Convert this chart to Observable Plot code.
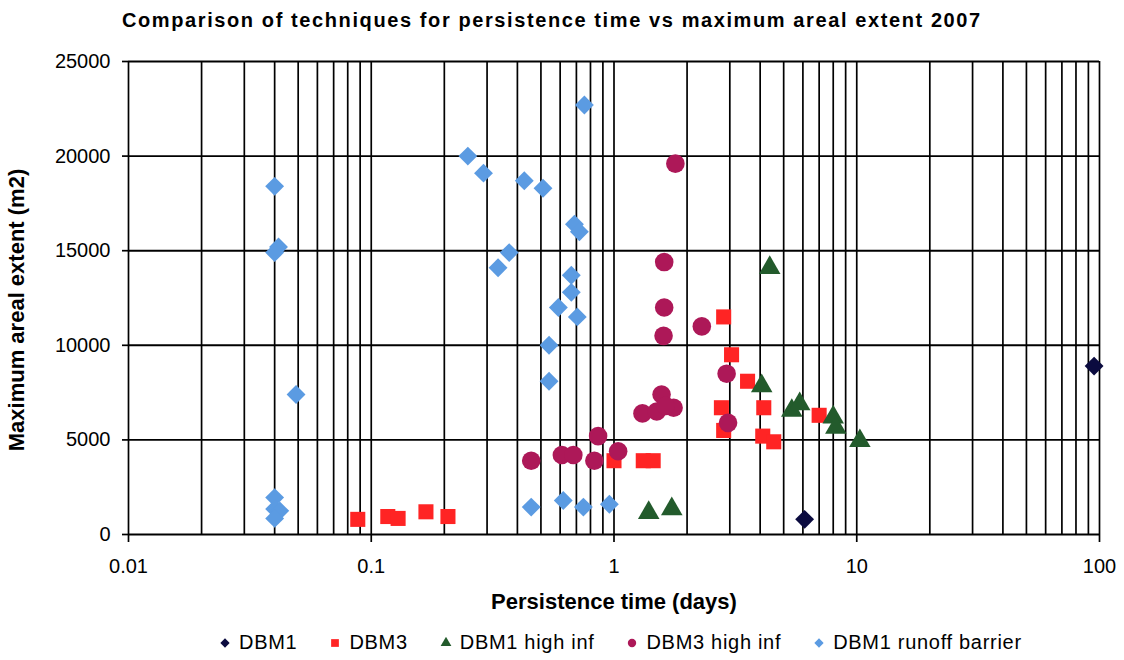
<!DOCTYPE html>
<html>
<head>
<meta charset="utf-8">
<script src="https://cdn.jsdelivr.net/npm/d3@7"></script>
<script src="https://cdn.jsdelivr.net/npm/@observablehq/plot@0.6"></script>
<style>
  html, body { margin: 0; padding: 0; background: #fff; }
  body { font-family: "Liberation Sans", Arial, sans-serif; color: #000; }
  #wrap { width: 1124px; height: 660px; position: relative; overflow: hidden; }
  #title { height: 40px; line-height: 40px; padding-left: 122px; font-weight: bold; font-size: 20px; letter-spacing: 1.6px; white-space: nowrap; }
  #chart svg { display: block; }
  #legend { height: 35px; display: flex; align-items: center; padding-left: 219px; font-size: 20px; letter-spacing: 0.7px; white-space: nowrap; }
  #legend .item { display: flex; align-items: center; margin-right: 32px; }
  #legend svg { width: 12px; height: 12px; margin-right: 8px; display: block; }
</style>
</head>
<body>
<div id="wrap">
  <div id="title">Comparison of techniques for persistence time vs maximum areal extent 2007</div>
  <div id="chart"></div>
  <div id="legend"></div>
</div>
<script>
// ---------- data (persistence time in days, maximum areal extent in m2) ----------
const seriesNames = ["DBM1", "DBM3", "DBM1 high inf", "DBM3 high inf", "DBM1 runoff barrier"];
const seriesColors = ["#0b0b3f", "#ff2424", "#235b2c", "#ad1858", "#5b9be2"];
const seriesSymbols = ["diamond2", "square", "triangle", "circle", "diamond2"];

const dbm1 = [[6.1, 800], [95, 8900]];
const dbm3 = [
  [0.088, 800], [0.117, 950], [0.129, 850], [0.168, 1200], [0.207, 950],
  [1.0, 3900], [1.32, 3900], [1.45, 3900],
  [2.83, 11500], [3.05, 9500], [3.55, 8100], [2.77, 6700], [2.83, 5500],
  [4.14, 6700], [4.1, 5200], [4.55, 4900], [7.0, 6300]
];
const dbm1HighInf = [
  [1.39, 1150], [1.73, 1350], [4.38, 14100], [4.06, 7850], [5.4, 6550],
  [5.82, 6900], [8.0, 6200], [8.2, 5650], [10.3, 4950]
];
const dbm3HighInf = [
  [1.79, 19600], [1.61, 14400], [1.61, 12000], [2.3, 11000], [1.6, 10500],
  [2.91, 8500], [2.95, 5900], [1.31, 6400], [1.5, 6500], [1.57, 7400],
  [1.76, 6700], [1.63, 6800], [0.456, 3900], [0.61, 4200], [0.68, 4200],
  [0.83, 3900], [0.86, 5200], [1.04, 4400]
];
const dbm1RunoffBarrier = [
  [0.04, 18400], [0.0415, 15200], [0.04, 14900], [0.049, 7400],
  [0.04, 1950], [0.04, 1350], [0.042, 1250], [0.04, 850],
  [0.25, 20000], [0.29, 19100], [0.427, 18700], [0.51, 18300], [0.755, 22700],
  [0.687, 16400], [0.72, 16000], [0.37, 14900], [0.333, 14100], [0.667, 13700],
  [0.667, 12800], [0.59, 12000], [0.706, 11500], [0.54, 10000], [0.54, 8100],
  [0.456, 1450], [0.618, 1800], [0.748, 1450], [0.957, 1600]
];

const xTickLabels = [0.01, 0.1, 1, 10, 100];
const yTickLabels = [0, 5000, 10000, 15000, 20000, 25000];
const xLabel = "Persistence time (days)";
const yLabel = "Maximum areal extent (m2)";

// ---------- build ----------
const allSeries = [dbm1, dbm3, dbm1HighInf, dbm3HighInf, dbm1RunoffBarrier];

// minor + major log grid lines
const xGrid = [];
for (let k = 0; k < xTickLabels.length - 1; k++) {
  for (let m = 1; m <= 9; m++) xGrid.push(+(xTickLabels[k] * m).toPrecision(3));
}
xGrid.push(xTickLabels[xTickLabels.length - 1]);

const sizes = {"diamond2": 8.5, "square": 8.5, "triangle": 8, "circle": 9.3};

const plot = Plot.plot({
  width: 1124,
  height: 585,
  marginTop: 21,
  marginBottom: 91,
  marginLeft: 128,
  marginRight: 25,
  style: {fontFamily: "'Liberation Sans', Arial, sans-serif", fontSize: "20px", color: "#000", background: "#fff"},
  x: {type: "log", domain: [0.01, 100]},
  y: {domain: [0, 25000]},
  marks: [
    Plot.gridX(xGrid, {stroke: "#000", strokeOpacity: 1, strokeWidth: 1.7}),
    Plot.gridY(yTickLabels, {stroke: "#000", strokeOpacity: 1, strokeWidth: 1.9}),
    Plot.axisX(xTickLabels, {tickSize: 8, tickPadding: 16, strokeWidth: 1.7, tickFormat: d => String(d), label: null, fontSize: 20}),
    Plot.axisY(yTickLabels, {tickSize: 6, tickPadding: 12, strokeWidth: 1.7, tickFormat: d => String(d), label: null, fontSize: 20, letterSpacing: 0.5}),
    ...allSeries.map((s, i) => Plot.dot(s, {
      x: d => d[0], y: d => d[1],
      symbol: seriesSymbols[i], r: sizes[seriesSymbols[i]],
      fill: seriesColors[i], stroke: "none"
    })),
    Plot.text([xLabel], {text: d => d, frameAnchor: "bottom", textAnchor: "middle", dy: 74, fontWeight: "bold", fontSize: 22, letterSpacing: 1.5}),
    Plot.text([yLabel], {text: d => d, frameAnchor: "left", textAnchor: "middle", dx: -112, dy: 12, rotate: -90, fontWeight: "bold", fontSize: 22, letterSpacing: 3.5})
  ]
});
document.getElementById("chart").appendChild(plot);

// ---------- legend ----------
const legend = d3.select("#legend");
seriesNames.forEach((name, i) => {
  const item = legend.append("div").attr("class", "item");
  const svg = item.append("svg").attr("viewBox", "-6 -6 12 12");
  const sym = {diamond2: d3.symbolDiamond2, square: d3.symbolSquare, triangle: d3.symbolTriangle, circle: d3.symbolCircle}[seriesSymbols[i]];
  const sz = {diamond2: 55, square: 60, triangle: 50, circle: 55}[seriesSymbols[i]];
  svg.append("path").attr("d", d3.symbol(sym, sz)()).attr("fill", seriesColors[i]);
  item.append("span").text(name);
});
</script>
</body>
</html>
